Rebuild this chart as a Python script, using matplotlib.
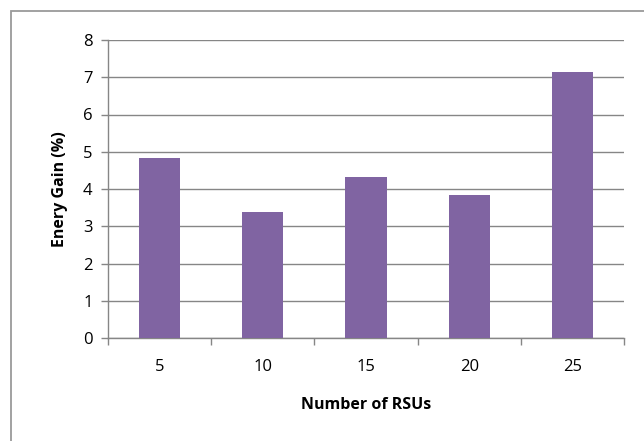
import numpy as np
import matplotlib.pyplot as plt
from matplotlib.patches import Rectangle

rsus = ['5', '10', '15', '20', '25']
energy_gain = [4.83, 3.38, 4.33, 3.85, 7.13]

plt.rcParams['font.family'] = ['Open Sans', 'DejaVu Sans']

fig = plt.figure(figsize=(6.44, 4.41), dpi=100)
ax = fig.add_axes([108 / 644, 1 - 338 / 441, 516 / 644, 298 / 441])

# outer chart border (only left/top visible in the crop)
fig.patches.append(Rectangle((11 / 644, -0.1), 1.2, 1 - 11 / 441 + 0.1,
                             transform=fig.transFigure, fill=False,
                             edgecolor='#9a9a9a', linewidth=1.3))

x = np.arange(len(rsus))
ax.bar(x, energy_gain, width=0.4, color='#8064A2', zorder=3)

ax.set_xlim(-0.5, len(rsus) - 0.5)
ax.set_ylim(0, 8)
ax.set_yticks(range(0, 9))
ax.yaxis.grid(True, color='#868686', linewidth=1.0, zorder=0)

ax.set_xticks(x)
ax.set_xticklabels(rsus)
ax.set_xticks(np.arange(-0.5, len(rsus)), minor=True)
ax.tick_params(axis='x', which='major', length=0, pad=15, labelsize=12)
ax.tick_params(axis='x', which='minor', length=5, color='#868686', width=1.0)
ax.tick_params(axis='y', length=5, color='#868686', width=1.0, pad=6, labelsize=12)

for s in ['top', 'right']:
    ax.spines[s].set_visible(False)
for s in ['left', 'bottom']:
    ax.spines[s].set_color('#868686')
    ax.spines[s].set_linewidth(1.0)

ax.set_xlabel('Number of RSUs', fontweight='bold', fontsize=11.5, labelpad=16)
ax.set_ylabel('Enery Gain (%)', fontweight='bold', fontsize=11.5, labelpad=11)

fig.savefig('out.png', dpi=100)
